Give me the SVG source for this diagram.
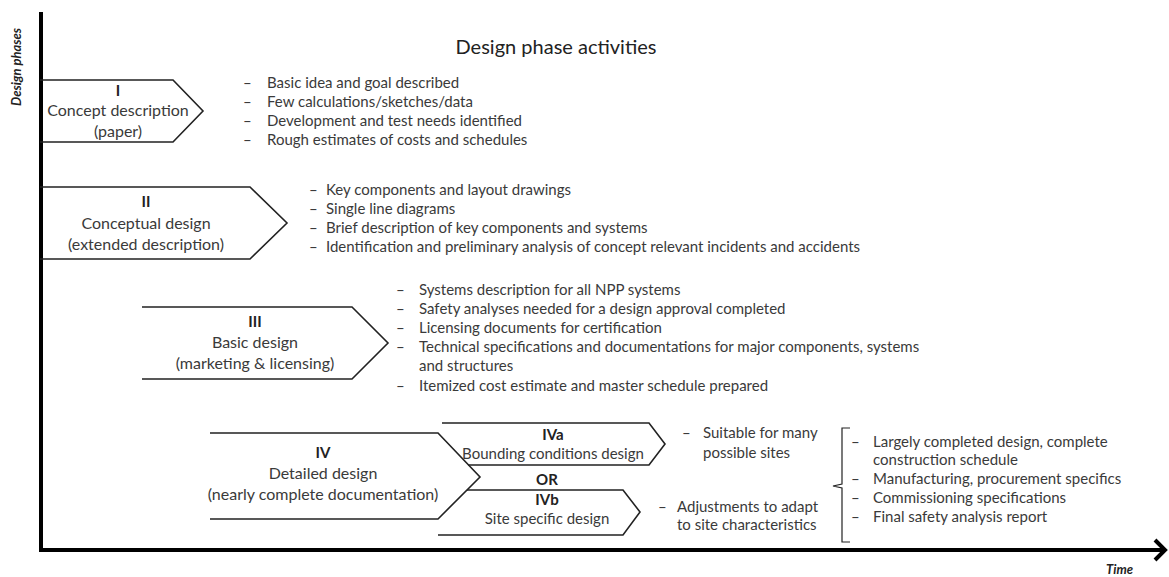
<svg xmlns="http://www.w3.org/2000/svg" width="1169" height="577" viewBox="0 0 1169 577">
<style>
text{font-family:Lato,"Liberation Sans",sans-serif;fill:#3a3a3a}
.t{font-size:20px;fill:#222;text-anchor:middle}
.s{font-size:16px;text-anchor:middle}
.n{font-size:15px;font-weight:bold;text-anchor:middle;fill:#222}
.l{font-size:15px}
.ax{font-size:13px;font-style:italic;font-weight:bold;fill:#222}
.shape{fill:none;stroke:#222;stroke-width:1.6;stroke-linejoin:miter}
.axis{fill:none;stroke:#000;stroke-width:4}
</style>
<rect width="1169" height="577" fill="#fff"/>
<g id="axes">
<path class="axis" d="M41,12 V550 H1165"/>
<polyline class="axis" points="1155,540 1165,550 1155,560"/>
<text class="ax" x="0" y="0" transform="translate(21,106) rotate(-90)">Design phases</text>
<text class="ax" x="1106" y="574">Time</text>
</g>
<text class="t" x="556" y="54">Design phase activities</text>
<g id="phase-I">
<path class="shape" d="M40,80 H173 L203,111 L173,142 H40"/>
<text class="n" x="118" y="96">I</text>
<text class="s" x="118" y="116">Concept description</text>
<text class="s" x="118" y="137">(paper)</text>
</g>
<g id="list-I" class="l">
<text x="243" y="88">–</text><text x="267" y="88">Basic idea and goal described</text>
<text x="243" y="107">–</text><text x="267" y="107">Few calculations/sketches/data</text>
<text x="243" y="126">–</text><text x="267" y="126">Development and test needs identified</text>
<text x="243" y="145">–</text><text x="267" y="145">Rough estimates of costs and schedules</text>
</g>
<g id="phase-II">
<path class="shape" d="M40,187 H250 L287,223 L250,259 H40"/>
<text class="n" x="146" y="207">II</text>
<text class="s" x="146" y="229">Conceptual design</text>
<text class="s" x="146" y="250">(extended description)</text>
</g>
<g id="list-II" class="l">
<text x="309" y="195">–</text><text x="326" y="195">Key components and layout drawings</text>
<text x="309" y="214">–</text><text x="326" y="214">Single line diagrams</text>
<text x="309" y="233">–</text><text x="326" y="233">Brief description of key components and systems</text>
<text x="309" y="252">–</text><text x="326" y="252">Identification and preliminary analysis of concept relevant  incidents and accidents</text>
</g>
<g id="phase-III">
<path class="shape" d="M142,307 H352 L388,343 L352,379 H142"/>
<text class="n" x="255" y="327">III</text>
<text class="s" x="255" y="348">Basic design</text>
<text class="s" x="255" y="369">(marketing &amp; licensing)</text>
</g>
<g id="list-III" class="l">
<text x="396" y="295">–</text><text x="419" y="295">Systems description for all NPP systems</text>
<text x="396" y="314">–</text><text x="419" y="314">Safety analyses needed for a design approval completed</text>
<text x="396" y="333">–</text><text x="419" y="333">Licensing documents for certification</text>
<text x="396" y="352">–</text><text x="419" y="352">Technical specifications and documentations for major components, systems</text>
<text x="419" y="371">and structures</text>
<text x="396" y="391">–</text><text x="419" y="391">Itemized cost estimate and master schedule prepared</text>
</g>
<g id="phase-IV">
<path class="shape" d="M210,433 H438 L480,477 L438,519 H210"/>
<text class="n" x="323" y="458">IV</text>
<text class="s" x="323" y="479">Detailed design</text>
<text class="s" x="323" y="500">(nearly complete documentation)</text>
</g>
<g id="phase-IVa">
<path class="shape" d="M442,423 H649 L665,444 L649,465 H468"/>
<text class="n" x="553" y="440">IVa</text>
<text class="s" x="553" y="459" style="font-size:15px">Bounding conditions design</text>
</g>
<text class="n" x="547" y="485">OR</text>
<g id="phase-IVb">
<path class="shape" d="M467,490 H623 L640,512 L623,535 H438"/>
<text class="n" x="547" y="505">IVb</text>
<text class="s" x="547" y="524" style="font-size:15px">Site specific design</text>
</g>
<g id="list-IVa" class="l">
<text x="682" y="438">–</text><text x="703" y="438">Suitable for many</text>
<text x="703" y="458">possible sites</text>
</g>
<g id="list-IVb" class="l">
<text x="658" y="512">–</text><text x="677" y="512">Adjustments to adapt</text>
<text x="677" y="530">to site characteristics</text>
</g>
<g id="connectors">
<path class="shape" d="M850,428 H842 V484 L833,486 L842,488 V542 H850" style="stroke-width:1.2"/>
</g>
<g id="list-IV" class="l">
<text x="851" y="447">–</text><text x="873" y="447">Largely completed design, complete</text>
<text x="873" y="465">construction schedule</text>
<text x="851" y="484">–</text><text x="873" y="484">Manufacturing, procurement specifics</text>
<text x="851" y="503">–</text><text x="873" y="503">Commissioning specifications</text>
<text x="851" y="522">–</text><text x="873" y="522">Final safety analysis report</text>
</g>
</svg>
